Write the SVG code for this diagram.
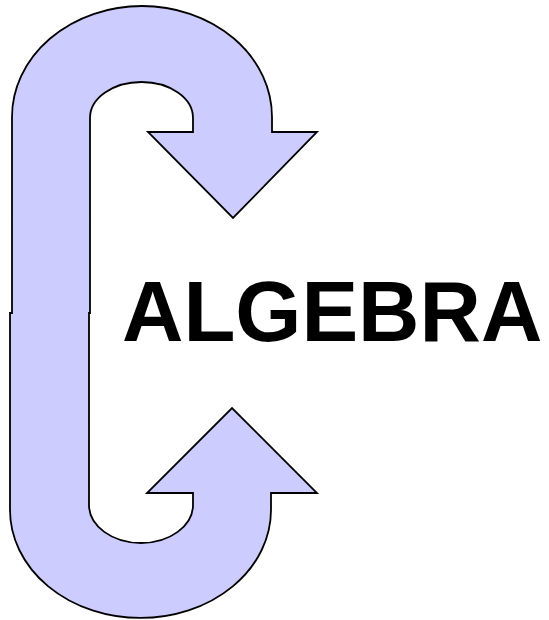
<svg xmlns="http://www.w3.org/2000/svg" width="549" height="620" viewBox="0 0 549 620">
<style>
.arrow{fill:#CCCCFF;stroke:#000;stroke-width:1.8;stroke-linejoin:miter}
.title{font-family:"Liberation Sans",Arial,sans-serif;font-weight:bold;font-size:85px;fill:#000}
</style>
<rect width="549" height="620" fill="#fff"/>
<g id="uturn-arrows">
<path class="arrow" d="M 12 313 L 12 117 A 130 111 0 0 1 272 117 L 272 132 L 317 132 L 233 218 L 148 132 L 193 132 L 193 118 A 51.5 36 0 0 0 90 118 L 90 313 L 89 313 L 89 505 A 52 38 0 0 0 193 505 L 193 493 L 147 493 L 232 408 L 317 493 L 271 493 L 271 510 A 130.5 108 0 0 1 10 510 L 10 313 Z"/>
</g>
<g id="label">
<text class="title" x="122" y="341">ALGEBRA</text>
</g>
</svg>
